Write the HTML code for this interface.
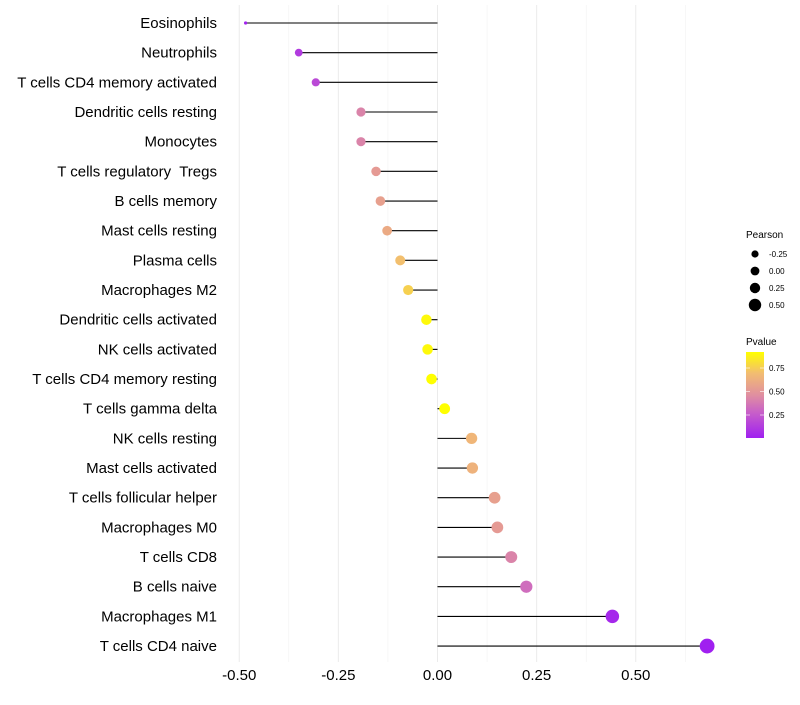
<!DOCTYPE html>
<html><head><meta charset="utf-8"><style>
body{margin:0;background:#fff;font-family:"Liberation Sans",sans-serif}
text{white-space:pre}
</style></head><body>
<svg id="c" width="800" height="700" xmlns="http://www.w3.org/2000/svg">
<defs><linearGradient id="pg" x1="0" y1="1" x2="0" y2="0">
<stop offset="0" stop-color="#A020F0"/><stop offset="0.3" stop-color="#C860C8"/><stop offset="0.5" stop-color="#E08FA0"/><stop offset="0.75" stop-color="#F2BC72"/><stop offset="1" stop-color="#FFFF00"/></linearGradient></defs>
<g id="grid"></g><g id="marks"></g><g id="labels"></g>
<g id="legend"></g>
</svg>
<script>
const categories=["Eosinophils","Neutrophils","T cells CD4 memory activated","Dendritic cells resting","Monocytes","T cells regulatory  Tregs","B cells memory","Mast cells resting","Plasma cells","Macrophages M2","Dendritic cells activated","NK cells activated","T cells CD4 memory resting","T cells gamma delta","NK cells resting","Mast cells activated","T cells follicular helper","Macrophages M0","T cells CD8","B cells naive","Macrophages M1","T cells CD4 naive"];
const pearson=[-0.484,-0.35,-0.307,-0.193,-0.193,-0.155,-0.144,-0.127,-0.094,-0.074,-0.028,-0.025,-0.015,0.018,0.086,0.088,0.144,0.151,0.186,0.224,0.441,0.68];
const pvalue=[0.02,0.12,0.18,0.42,0.42,0.52,0.55,0.6,0.7,0.76,0.9,0.9,0.92,0.92,0.66,0.64,0.55,0.52,0.42,0.33,0.04,0.005];
const xTicks=[-0.5,-0.25,0,0.25,0.5];
const xTickLabels=["-0.50","-0.25","0.00","0.25","0.50"];
const NS="http://www.w3.org/2000/svg";
const x=v=>437.5+v*396.5, y=i=>23+i*29.67;
const pmin=-0.484,pmax=0.68;
const rad=v=>{const t=(v-pmin)/(pmax-pmin);return t<0.03?1.6:Math.sqrt(8.5+43.5*t)+0.2;};
const stops=[[0,[160,32,240]],[0.3,[200,96,200]],[0.5,[224,143,160]],[0.75,[242,188,114]],[1,[255,255,0]]];
function col(p){let t=(p-0.005)/(0.92-0.005);t=Math.max(0,Math.min(1,t));for(let k=1;k<stops.length;k++){if(t<=stops[k][0]){const a=stops[k-1],b=stops[k],f=(t-a[0])/(b[0]-a[0]);return `rgb(${a[1].map((c,j)=>Math.round(c+(b[1][j]-c)*f)).join(',')})`}}return 'rgb(255,255,0)';}
function mk(tag,attrs,parent,txt){const e=document.createElementNS(NS,tag);for(const k in attrs)e.setAttribute(k,attrs[k]);if(txt!==undefined)e.textContent=txt;document.getElementById(parent).appendChild(e);return e;}
const minor=[-0.375,-0.125,0.125,0.375,0.625];
minor.forEach(v=>{const l=mk('line',{x1:x(v),x2:x(v),y1:5,y2:662,stroke:'#f2f2f2','stroke-width':0.6},'grid');});
xTicks.forEach((v,i)=>{const l=mk('line',{x1:x(v),x2:x(v),y1:5,y2:662,stroke:'#ebebeb','stroke-width':1},'grid');
const t=mk('text',{x:x(v),y:680,'text-anchor':'middle','font-size':15,fill:'#000'},'labels',xTickLabels[i]);});
categories.forEach((c,i)=>{
const t=mk('text',{x:217,y:y(i)+5,'text-anchor':'end','font-size':15,fill:'#000'},'labels',c);
const l=mk('line',{x1:x(0),x2:x(pearson[i]),y1:y(i),y2:y(i),stroke:'#000','stroke-width':1.1},'marks');
const d=mk('circle',{cx:x(pearson[i]),cy:y(i),r:rad(pearson[i]),fill:col(pvalue[i])},'marks');
});
const lg='legend';
mk('text',{x:746,y:238,'font-size':10},lg,'Pearson');
const sz=[-0.25,0,0.25,0.5],szl=["-0.25","0.00","0.25","0.50"],szr=[3.6,4.4,5.2,6.2];
sz.forEach((v,i)=>{const cy=254+i*17;const d=mk('circle',{cx:755,cy:cy,r:szr[i],fill:'#000'},lg);mk('text',{x:769,y:cy+3,'font-size':8},lg,szl[i]);});
mk('text',{x:746,y:345,'font-size':10},lg,'Pvalue');
const bar=mk('rect',{x:746,y:352,width:18,height:86,fill:'url(#pg)'},lg);
[[0.25,"0.25"],[0.5,"0.50"],[0.75,"0.75"]].forEach(([v,s])=>{const yy=415-(v-0.25)*94;mk('line',{x1:746,x2:750,y1:yy,y2:yy,stroke:'#fff','stroke-width':0.6},lg);mk('line',{x1:760,x2:764,y1:yy,y2:yy,stroke:'#fff','stroke-width':0.6},lg);mk('text',{x:769,y:yy+3,'font-size':8},lg,s);});
</script>
</body></html>
